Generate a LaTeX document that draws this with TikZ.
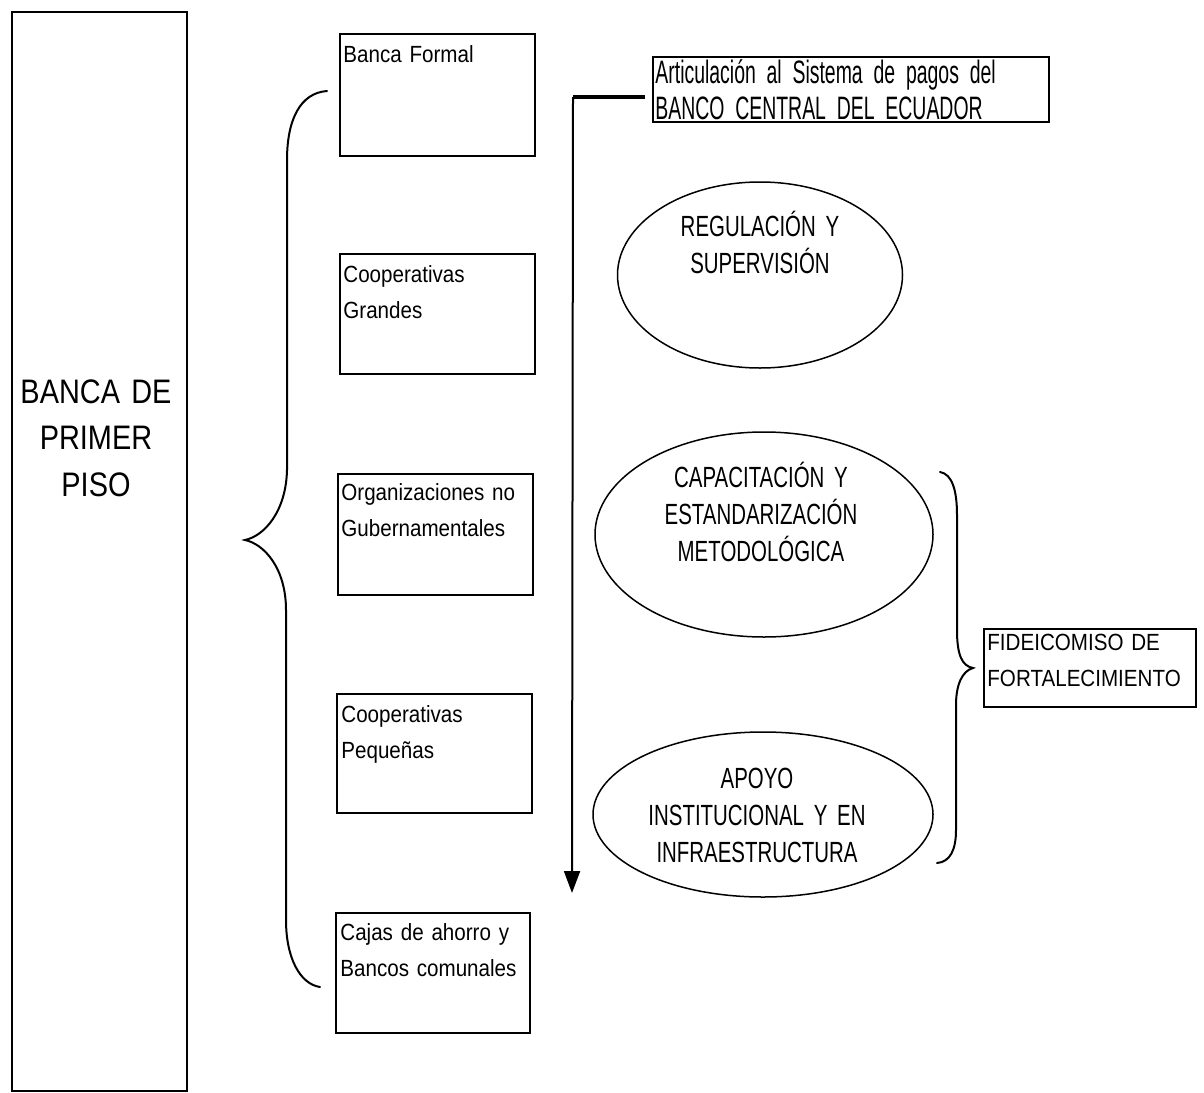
\documentclass[tikz,border=0pt]{standalone}
\usepackage{fontspec}
\setmainfont{Liberation Sans}
\newfontfamily\boxfont[FakeStretch=0.88]{Liberation Sans}
\newfontfamily\trfont[FakeStretch=0.6]{Liberation Sans}
\newfontfamily\elfont[FakeStretch=0.7]{Liberation Sans}
\newfontfamily\bigfont[FakeStretch=0.85]{Liberation Sans}
\newcommand\myboxfnt{\boxfont\fontsize{11.7}{18}\selectfont}
\newcommand\mytrfnt{\trfont\fontsize{16.2}{18.3}\selectfont}
\newcommand\myelfnt{\elfont\fontsize{14.6}{18.7}\selectfont}
\newcommand\mybigfnt{\bigfont\fontsize{17}{23.25}\selectfont}
\usetikzlibrary{shapes.geometric,arrows.meta,calc}
\begin{document}
\begin{tikzpicture}[x=0.5pt,y=-0.5pt,
  boxshape/.style={draw, line width=0.75pt, rectangle, inner sep=0pt, anchor=north west},
  ellshape/.style={draw, line width=0.75pt, ellipse, inner sep=0pt},
  btext/.style={inner sep=0pt, anchor=base west, align=left, text width=110pt, font=\myboxfnt},
  trtext/.style={inner sep=0pt, anchor=base west, align=left, text width=190pt, font=\mytrfnt},
  etext/.style={inner sep=0pt, anchor=base, align=center, text width=150pt, font=\myelfnt},
  bigtext/.style={inner sep=0pt, anchor=base, align=center, text width=85pt, font=\mybigfnt},
  bracestyle/.style={draw, line width=1pt, line cap=round}
]
\useasboundingbox (0,0) rectangle (1204,1092);

% big box
\node[boxshape, minimum width=87.5pt, minimum height=539.5pt] (big) at (11,11) {};
\node[bigtext] (bigt) at (96,403) {BANCA DE\\PRIMER\\PISO};

% small boxes
\node[boxshape, minimum width=97.5pt, minimum height=61pt] (b1) at (339,33) {};
\node[boxshape, minimum width=97.5pt, minimum height=60pt] (b2) at (339,253) {};
\node[boxshape, minimum width=97.5pt, minimum height=60.5pt] (b3) at (337,473) {};
\node[boxshape, minimum width=97.5pt, minimum height=59.5pt] (b4) at (336,693) {};
\node[boxshape, minimum width=97pt, minimum height=60pt] (b5) at (335,912) {};
\node[btext] (t1) at (343,62) {Banca Formal};
\node[btext] (t2) at (343,282) {Cooperativas\\Grandes};
\node[btext] (t3) at (341,500) {Organizaciones no\\Gubernamentales};
\node[btext] (t4) at (341,722) {Cooperativas\\Pequeñas};
\node[btext] (t5) at (340,940) {Cajas de ahorro y\\Bancos comunales};

% top right box
\node[boxshape, minimum width=198pt, minimum height=32.5pt] (tr) at (652,56) {};
\node[trtext] (trt) at (655,83) {Articulación al Sistema de pagos del\\BANCO CENTRAL DEL ECUADOR};

% fideicomiso box
\node[boxshape, minimum width=106pt, minimum height=39pt] (fid) at (983,628) {};
\node[btext] (fidt) at (987,650) {FIDEICOMISO DE\\FORTALECIMIENTO};

% ellipses
\node[ellshape, minimum width=142.5pt, minimum height=93pt] (e1) at (760,275) {};
\node[ellshape, minimum width=169pt, minimum height=102.5pt] (e2) at (764,534.5) {};
\node[ellshape, minimum width=170pt, minimum height=82.5pt] (e3) at (763,814.5) {};
\node[etext] (e1t) at (760,236) {REGULACIÓN Y\\SUPERVISIÓN};
\node[etext] (e2t) at (761,487) {CAPACITACIÓN Y\\ESTANDARIZACIÓN\\METODOLÓGICA};
\node[etext] (e3t) at (757,788) {APOYO\\INSTITUCIONAL Y EN\\INFRAESTRUCTURA};

% arrow
\coordinate (ac) at (573,97);
\coordinate (aend) at (572,893);
\draw[line width=2.2pt, shorten >=3.5pt] (ac) -- (tr.west |- ac);
\draw[line width=1pt, -{Triangle[width=8pt,length=11pt]}] (ac) -- (aend);

% left brace
\coordinate (lbt) at (327,91);
\coordinate (lbtip) at (245,540);
\coordinate (lbb) at (320,987);
\draw[bracestyle] (lbt) .. controls (300,93) and (287,120) .. (287,160)
  -- (287,470) .. controls (286,512) and (264,536) .. (lbtip)
  .. controls (264,544) and (286,568) .. (286,610)
  -- (286,920) .. controls (286,958) and (300,984) .. (lbb);

% right brace
\coordinate (rbt) at (940,472);
\coordinate (rbtip) at (973,668);
\coordinate (rbb) at (937,863);
\draw[bracestyle] (rbt) .. controls (952,474) and (957,490) .. (957,515)
  -- (957,630) .. controls (957,655) and (962,666) .. (rbtip)
  .. controls (962,671) and (956,685) .. (956,705)
  -- (956,830) .. controls (956,850) and (950,862) .. (rbb);
\end{tikzpicture}
\end{document}
